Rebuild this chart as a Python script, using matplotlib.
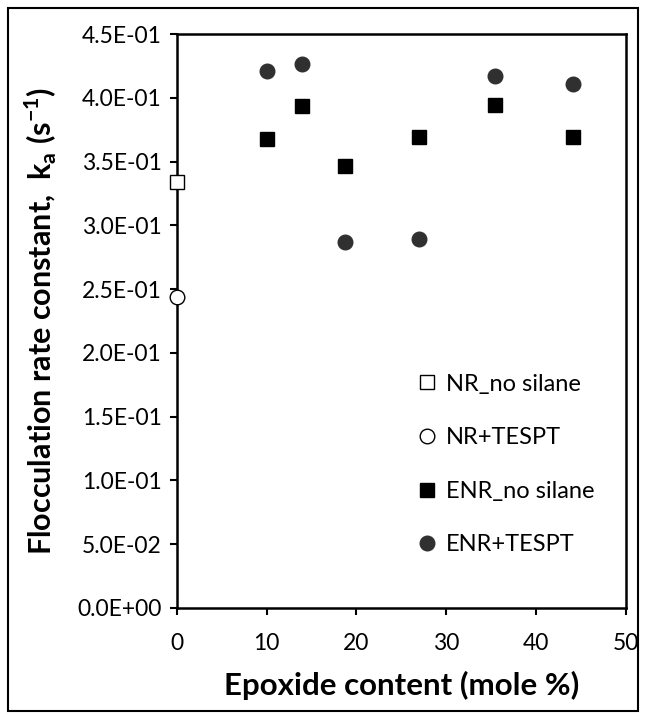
import matplotlib
matplotlib.use("Agg")
import matplotlib.pyplot as plt
from matplotlib.patches import Rectangle

plt.rcParams['font.family'] = ['Lato', 'DejaVu Sans']

nr_x = [0]
nr_no_silane = [0.3337]
nr_tespt = [0.2438]
enr_x = [10.0, 13.9, 18.75, 27.0, 35.5, 44.1]
enr_no_silane = [0.3676, 0.3935, 0.3467, 0.3694, 0.3946, 0.3694]
enr_tespt = [0.4208, 0.4262, 0.2869, 0.2894, 0.4169, 0.4104]
yticks = [0.0, 0.05, 0.10, 0.15, 0.20, 0.25, 0.30, 0.35, 0.40, 0.45]
ytick_labels = ["0.0E+00", "5.0E-02", "1.0E-01", "1.5E-01", "2.0E-01",
                "2.5E-01", "3.0E-01", "3.5E-01", "4.0E-01", "4.5E-01"]
xticks = [0, 10, 20, 30, 40, 50]

fig = plt.figure(figsize=(6.46, 7.19), dpi=100)
fig.patches.append(Rectangle((8/646, 8/719), 630/646, 703/719, transform=fig.transFigure,
                             fill=False, edgecolor='black', linewidth=1.5))
ax = fig.add_axes([0.274, 0.1547, 0.6943, 0.798])

ax.plot(nr_x, nr_no_silane, linestyle='none', marker='s', markersize=9.5,
        markerfacecolor='white', markeredgecolor='black', markeredgewidth=1.0,
        label='NR_no silane', clip_on=False, zorder=5)
ax.plot(nr_x, nr_tespt, linestyle='none', marker='o', markersize=10.5,
        markerfacecolor='white', markeredgecolor='black', markeredgewidth=1.0,
        label='NR+TESPT', clip_on=False, zorder=5)
ax.plot(enr_x, enr_no_silane, linestyle='none', marker='s', markersize=9.5,
        markerfacecolor='black', markeredgecolor='black',
        label='ENR_no silane', clip_on=False, zorder=5)
ax.plot(enr_x, enr_tespt, linestyle='none', marker='o', markersize=10.5,
        markerfacecolor='#303030', markeredgecolor='#303030',
        label='ENR+TESPT', clip_on=False, zorder=5)

ax.set_xlim(0, 50)
ax.set_ylim(0, 0.45)
ax.set_xticks(xticks)
ax.set_yticks(yticks)
ax.set_yticklabels(ytick_labels)
ax.tick_params(direction='out', length=5, width=1.5, labelsize=16.5, colors='black')
ax.tick_params(axis='y', pad=6)
ax.tick_params(axis='x', pad=13)
for s in ax.spines.values():
    s.set_linewidth(1.8)
    s.set_color('black')

ax.set_xlabel('Epoxide content (mole %)', fontsize=22.5, fontweight='bold', labelpad=12)
ax.set_ylabel(r'Flocculation rate constant,  k$_\mathregular{a}$ (s$^\mathregular{-1}$)',
              fontsize=22, fontweight='bold', labelpad=13)

leg = ax.legend(loc='center left', bbox_to_anchor=(0.536, 0.2495), frameon=False,
                fontsize=17, handlelength=0.8, handletextpad=0.4, labelspacing=1.38,
                borderaxespad=0, borderpad=0)

fig.savefig('out.png', dpi=100)
